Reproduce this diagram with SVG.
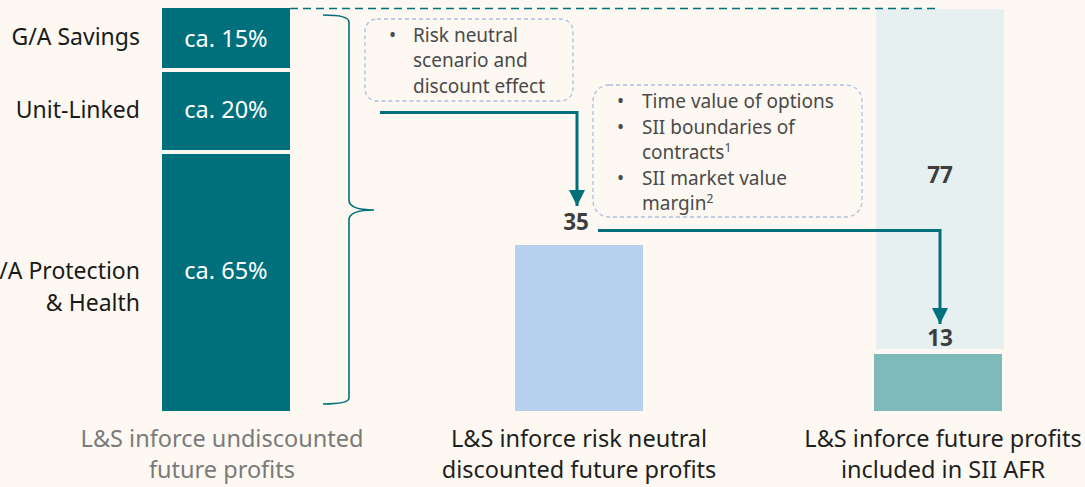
<svg xmlns="http://www.w3.org/2000/svg" width="1085" height="487" viewBox="0 0 1085 487">
  <defs>
    <marker id="arrowhead" viewBox="0 0 10 10" refX="10" refY="5" markerWidth="5.4" markerHeight="5.4" markerUnits="strokeWidth" orient="auto">
      <path d="M0,0 L10,5 L0,10 Z" fill="#00717c"/>
    </marker>
  </defs>
  <style>
    text { font-family: "Noto Sans", "Open Sans", sans-serif; }
    .cat { font-size: 23px; fill: #1a1a1a; text-anchor: end; }
    .pct { font-size: 23.5px; fill: #ffffff; text-anchor: middle; }
    .note { font-size: 19px; fill: #4a4a4a; }
    .val { font-size: 22.5px; font-weight: bold; fill: #3d3d3d; text-anchor: middle; }
    .axis { font-size: 23.5px; text-anchor: middle; }
    .box { fill: none; stroke: #a9c0e2; stroke-width: 1.3; stroke-dasharray: 4 3; }
    .flow { fill: none; stroke: #00717c; stroke-width: 3; }
  </style>

  <rect width="1085" height="487" fill="#fdf9f2"/>

  <!-- undiscounted profits, split by line of business -->
  <g id="ga-savings">
    <rect x="162" y="8" width="128" height="60" fill="#00717c"/>
    <text class="pct" x="226" y="47">ca. 15%</text>
    <text class="cat" x="140" y="45">G/A Savings</text>
  </g>
  <g id="unit-linked">
    <rect x="162" y="72" width="128" height="78" fill="#00717c"/>
    <text class="pct" x="226" y="118">ca. 20%</text>
    <text class="cat" x="140" y="118">Unit-Linked</text>
  </g>
  <g id="ga-protection">
    <rect x="162" y="154" width="128" height="257" fill="#00717c"/>
    <text class="pct" x="226" y="279">ca. 65%</text>
    <text class="cat" x="140" y="279">G/A Protection</text>
    <text class="cat" x="140" y="311">&amp; Health</text>
  </g>

  <!-- brace grouping the three segments -->
  <g id="brace">
    <path d="M323,15 Q349,15 349,22 L349,200 Q349,210 374,210 Q349,210 349,220 L349,398 Q349,404 323,404" fill="none" stroke="#00717c" stroke-width="1.6"/>
  </g>

  <!-- risk neutral discounted profits -->
  <g id="risk-neutral">
    <rect x="515" y="245" width="128" height="166" fill="#b6d1ee"/>
    <text class="val" x="576" y="230">35</text>
  </g>

  <!-- profits included in SII AFR -->
  <g id="sii-afr">
    <rect x="876" y="9" width="128" height="340" fill="#e6f0f0"/>
    <rect x="874" y="354" width="128" height="57" fill="#7fbaba"/>
    <text class="val" x="940" y="183">77</text>
    <text class="val" x="940" y="346">13</text>
  </g>

  <!-- explanatory notes -->
  <g id="note-discount">
    <rect class="box" x="365" y="19" width="208" height="82" rx="12"/>
    <text class="note" x="389" y="42">•</text>
    <text class="note" x="413" y="42">Risk neutral</text>
    <text class="note" x="413" y="67">scenario and</text>
    <text class="note" x="413" y="93">discount effect</text>
  </g>
  <g id="note-sii">
    <rect class="box" x="593" y="85" width="269" height="132" rx="16"/>
    <text class="note" x="617" y="108">•</text>
    <text class="note" x="642" y="108">Time value of options</text>
    <text class="note" x="617" y="134">•</text>
    <text class="note" x="642" y="134">SII boundaries of</text>
    <text class="note" x="642" y="159">contracts<tspan font-size="12" dy="-7">1</tspan></text>
    <text class="note" x="617" y="185">•</text>
    <text class="note" x="642" y="185">SII market value</text>
    <text class="note" x="642" y="210">margin<tspan font-size="12" dy="-7">2</tspan></text>
  </g>

  <!-- axis labels -->
  <g id="labels">
    <text class="axis" x="222" y="447" fill="#7a7a7a">L&amp;S inforce undiscounted</text>
    <text class="axis" x="222" y="478" fill="#7a7a7a">future profits</text>
    <text class="axis" x="579" y="447" fill="#1f1f1f">L&amp;S inforce risk neutral</text>
    <text class="axis" x="579" y="478" fill="#1f1f1f">discounted future profits</text>
    <text class="axis" x="943" y="447" fill="#1f1f1f">L&amp;S inforce future profits</text>
    <text class="axis" x="943" y="478" fill="#1f1f1f">included in SII AFR</text>
  </g>

  <!-- connectors -->
  <g id="connectors">
    <line x1="290" y1="8.5" x2="940" y2="8.5" stroke="#00717c" stroke-width="1.6" stroke-dasharray="8 5"/>
    <path class="flow" d="M380,112.5 L577,112.5 L577,206" marker-end="url(#arrowhead)"/>
    <path class="flow" d="M598,230.5 L940,230.5 L940,324" marker-end="url(#arrowhead)"/>
  </g>
</svg>
